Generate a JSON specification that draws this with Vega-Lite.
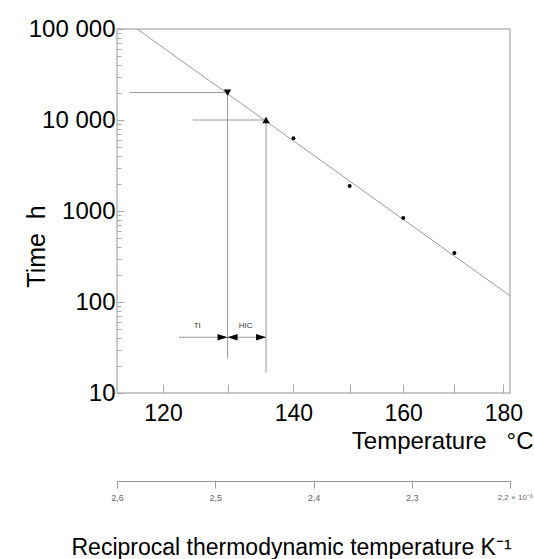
{
  "$schema": "https://vega.github.io/schema/vega-lite/v6.json",
  "width": 393,
  "height": 364,
  "autosize": {"type": "none"},
  "padding": {"left": 117, "top": 29, "right": 24, "bottom": 166},
  "background": "white",
  "config": {
    "font": "Liberation Sans",
    "view": {"stroke": "#b8b8b8", "strokeWidth": 1.5}
  },
  "datasets": {
    "fit": [
      {"recip": 2.5796, "hours": 100000},
      {"recip": 2.2, "hours": 117}
    ],
    "points": [
      {"temperature_C": 140, "recip": 2.4204, "hours": 6300},
      {"temperature_C": 150, "recip": 2.3632, "hours": 1880},
      {"temperature_C": 160, "recip": 2.3087, "hours": 840},
      {"temperature_C": 170, "recip": 2.2566, "hours": 345}
    ],
    "markers": [
      {"marker": "TI", "recip": 2.4875, "hours": 20000},
      {"marker": "HIC", "recip": 2.4483, "hours": 10000}
    ],
    "guides": [
      {"recip": 2.5874, "recip2": 2.4875, "hours": 20000, "hours2": 20000},
      {"recip": 2.4875, "recip2": 2.4875, "hours": 20000, "hours2": 24},
      {"recip": 2.5228, "recip2": 2.4483, "hours": 10000, "hours2": 10000},
      {"recip": 2.4483, "recip2": 2.4483, "hours": 10000, "hours2": 16.7},
      {"recip": 2.5369, "recip2": 2.4483, "hours": 41, "hours2": 41}
    ],
    "arrows": [
      {"recip": 2.4875, "hours": 41, "dir": "right"},
      {"recip": 2.4875, "hours": 41, "dir": "left"},
      {"recip": 2.4483, "hours": 41, "dir": "right"}
    ],
    "labels": [
      {"text": "TI", "recip": 2.5183, "hours": 54},
      {"text": "HIC", "recip": 2.469, "hours": 54}
    ]
  },
  "layer": [
    {
      "data": {"name": "fit"},
      "mark": {"type": "line", "color": "#9a9a9a", "strokeWidth": 1},
      "encoding": {
        "x": {
          "field": "recip", "type": "quantitative",
          "scale": {"domain": [2.2, 2.6], "reverse": true, "nice": false, "zero": false},
          "axis": {
            "orient": "bottom",
            "values": [2.5532, 2.4875, 2.4204, 2.3632, 2.3087, 2.2566, 2.2068],
            "labelExpr": "(round((1000/datum.value-273.15)/10)*10) % 20 == 0 ? '' + round((1000/datum.value-273.15)/10)*10 : ''",
            "domain": false, "grid": false,
            "tickSize": -9, "tickColor": "#aaaaaa", "tickWidth": 1,
            "labelFontSize": 23, "labelColor": "#000000", "labelPadding": 18,
            "labelFlush": false,
            "title": "Temperature\u00a0\u00a0\u00a0°C",
            "titleFontSize": 24, "titleFontWeight": "normal", "titleColor": "#000000",
            "titleAnchor": "end", "titleAlign": "right", "titleX": 416, "titleY": 55,
            "titleBaseline": "alphabetic"
          }
        },
        "y": {
          "field": "hours", "type": "quantitative",
          "scale": {"type": "log", "domain": [10, 100000], "nice": false},
          "axis": {
            "orient": "left",
            "values": [10, 100, 1000, 10000, 100000],
            "labelExpr": "datum.value == 100000 ? '100\u00a0000' : datum.value == 10000 ? '10\u00a0000' : '' + datum.value",
            "domain": false, "grid": false,
            "tickSize": -7, "tickColor": "#aaaaaa",
            "labelFontSize": 24, "labelColor": "#000000", "labelPadding": 9,
            "title": "Time\u00a0\u00a0h",
            "titleFontSize": 25, "titleFontWeight": "normal", "titleColor": "#000000",
            "titleAngle": 270, "titleX": -81, "titleY": 217,
            "titleAlign": "center", "titleBaseline": "middle", "titleAnchor": "middle"
          }
        }
      }
    },
    {
      "data": {"name": "guides"},
      "mark": {"type": "rule", "color": "#9a9a9a", "strokeWidth": 1},
      "encoding": {
        "x": {"field": "recip", "type": "quantitative", "axis": null},
        "x2": {"field": "recip2"},
        "y": {"field": "hours", "type": "quantitative", "axis": null},
        "y2": {"field": "hours2"}
      }
    },
    {
      "data": {"name": "points"},
      "mark": {"type": "point", "shape": "circle", "filled": true, "color": "#000000", "size": 16, "opacity": 1},
      "encoding": {
        "x": {
          "field": "recip", "type": "quantitative",
          "axis": {
            "orient": "bottom", "offset": 88,
            "values": [2.6, 2.5, 2.4, 2.3, 2.2],
            "labelExpr": "datum.value < 2.25 ? '2,2 × 10⁻³' : replace(format(datum.value, '.1f'), '.', ',')",
            "labelAlign": {"condition": {"test": "datum.value < 2.25", "value": "right"}, "value": "center"},
            "labelOffset": {"condition": {"test": "datum.value < 2.25", "value": 22}, "value": 0},
            "labelFontSize": {"condition": {"test": "datum.value < 2.25", "value": 8}, "value": 9},
            "labelFlush": false,
            "domain": true, "domainColor": "#999999", "domainWidth": 1,
            "grid": false,
            "tickSize": 7, "tickColor": "#999999",
            "labelColor": "#666666", "labelPadding": 5,
            "title": "Reciprocal thermodynamic temperature K⁻¹",
            "titleFontSize": 23, "titleFontWeight": "normal", "titleColor": "#000000",
            "titleAnchor": "start", "titleAlign": "left", "titleX": -46, "titleY": 73,
            "titleBaseline": "alphabetic"
          }
        },
        "y": {
          "field": "hours", "type": "quantitative",
          "axis": {
            "orient": "left",
            "values": [20, 30, 40, 50, 60, 70, 80, 90, 200, 300, 400, 500, 600, 700, 800, 900, 2000, 3000, 4000, 5000, 6000, 7000, 8000, 9000, 20000, 30000, 40000, 50000, 60000, 70000, 80000, 90000],
            "labels": false, "domain": false, "grid": false,
            "tickSize": -4, "tickColor": "#aaaaaa",
            "title": null
          }
        }
      }
    },
    {
      "data": {"name": "markers"},
      "mark": {"type": "point", "filled": true, "color": "#000000", "size": 55, "opacity": 1},
      "encoding": {
        "x": {"field": "recip", "type": "quantitative", "axis": null},
        "y": {"field": "hours", "type": "quantitative", "axis": null},
        "shape": {
          "field": "marker", "type": "nominal",
          "scale": {"domain": ["TI", "HIC"], "range": ["triangle-down", "triangle-up"]},
          "legend": null
        }
      }
    },
    {
      "data": {"name": "arrows"},
      "mark": {"type": "point", "filled": true, "color": "#000000", "size": 100, "opacity": 1},
      "encoding": {
        "x": {"field": "recip", "type": "quantitative", "axis": null},
        "y": {"field": "hours", "type": "quantitative", "axis": null},
        "shape": {
          "field": "dir", "type": "nominal",
          "scale": {"domain": ["right", "left"], "range": ["M0,0L-2,-0.65L-2,0.65Z", "M0,0L2,-0.65L2,0.65Z"]},
          "legend": null
        }
      }
    },
    {
      "data": {"name": "labels"},
      "mark": {"type": "text", "fontSize": 8, "color": "#333333", "align": "center", "baseline": "middle"},
      "encoding": {
        "x": {"field": "recip", "type": "quantitative", "axis": null},
        "y": {"field": "hours", "type": "quantitative", "axis": null},
        "text": {"field": "text", "type": "nominal"}
      }
    }
  ],
  "resolve": {
    "axis": {"x": "independent", "y": "independent"},
    "scale": {"shape": "independent"}
  }
}
